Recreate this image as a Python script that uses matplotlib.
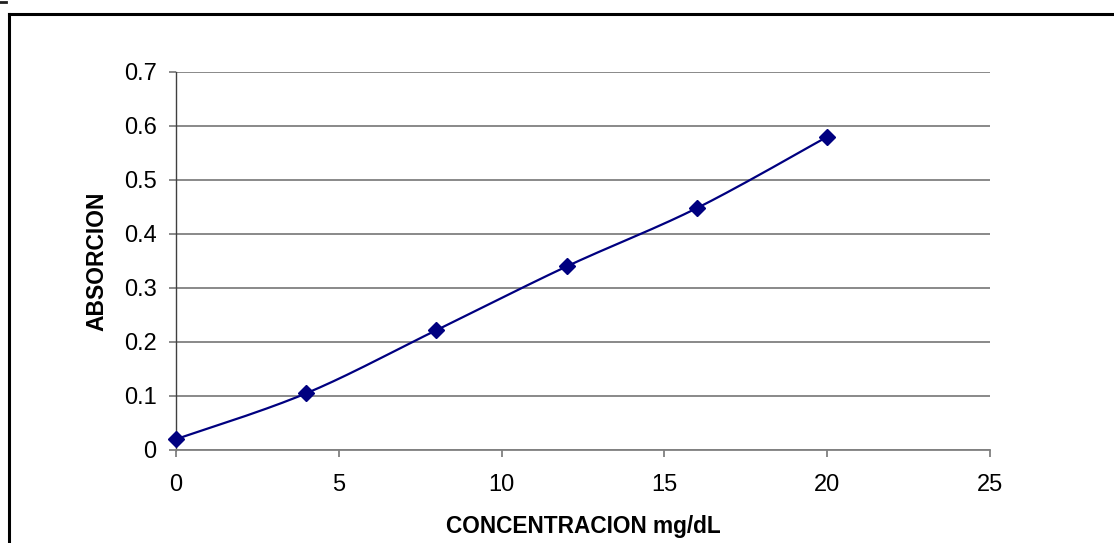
import numpy as np
import matplotlib
matplotlib.use("Agg")
import matplotlib.pyplot as plt
from matplotlib.lines import Line2D

concentracion = [0, 4, 8, 12, 16, 20]
absorcion = [0.02, 0.105, 0.222, 0.34, 0.448, 0.58]
x_ticks = [0, 5, 10, 15, 20, 25]
y_ticks = [0, 0.1, 0.2, 0.3, 0.4, 0.5, 0.6, 0.7]
y_labels = ["0", "0.1", "0.2", "0.3", "0.4", "0.5", "0.6", "0.7"]

plt.rcParams['font.family'] = ['Liberation Sans', 'DejaVu Sans']

W, H = 1114, 543
fig = plt.figure(figsize=(W / 100, H / 100), dpi=100)
ax = fig.add_axes([176 / W, 1 - 450 / H, (990 - 176) / W, (450 - 72) / H])

# Excel-style smoothed line (Catmull-Rom through the data points)
def smooth(xs, ys, n=30):
    xs = np.asarray(xs, float); ys = np.asarray(ys, float)
    px = np.concatenate([[xs[0]], xs, [xs[-1]]])
    py = np.concatenate([[ys[0]], ys, [ys[-1]]])
    outx, outy = [], []
    t = np.linspace(0, 1, n)
    for i in range(1, len(px) - 2):
        p0x, p1x, p2x, p3x = px[i - 1], px[i], px[i + 1], px[i + 2]
        p0y, p1y, p2y, p3y = py[i - 1], py[i], py[i + 1], py[i + 2]
        c1x = p1x + (p2x - p0x) / 6; c1y = p1y + (p2y - p0y) / 6
        c2x = p2x - (p3x - p1x) / 6; c2y = p2y - (p3y - p1y) / 6
        bx = (1 - t) ** 3 * p1x + 3 * (1 - t) ** 2 * t * c1x + 3 * (1 - t) * t ** 2 * c2x + t ** 3 * p2x
        by = (1 - t) ** 3 * p1y + 3 * (1 - t) ** 2 * t * c1y + 3 * (1 - t) * t ** 2 * c2y + t ** 3 * p2y
        outx.extend(bx); outy.extend(by)
    return outx, outy

sx, sy = smooth(concentracion, absorcion)
ax.plot(sx, sy, color='#000080', lw=1.6, zorder=3, clip_on=False)
ax.plot(concentracion, absorcion, linestyle='none', marker='D', markersize=8.5,
        color='#000080', zorder=4, clip_on=False)

ax.set_xlim(0, 25)
ax.set_ylim(0, 0.7)
ax.set_xticks(x_ticks)
ax.set_xticklabels([str(v) for v in x_ticks])
ax.set_yticks(y_ticks)
ax.set_yticklabels(y_labels)
ax.yaxis.grid(True, color='#808080', lw=1.3)
ax.set_axisbelow(True)
for s in ['top', 'right']:
    ax.spines[s].set_visible(False)
ax.spines['left'].set_color('#404040')
ax.spines['bottom'].set_color('#808080')
ax.spines['left'].set_linewidth(1.0)
ax.spines['bottom'].set_linewidth(1.3)
ax.tick_params(axis='y', length=5, width=1.3, color='#808080', pad=9, labelsize=17)
ax.tick_params(axis='x', length=5, width=1.3, color='#808080', pad=12, labelsize=17)

ax.set_xlabel('CONCENTRACION mg/dL', fontsize=16.3, fontweight='bold')
ax.set_ylabel('ABSORCION', fontsize=16.5, fontweight='bold')
ax.xaxis.set_label_coords(0.5, (450 - 533) / 378)
ax.xaxis.label.set_va('baseline')
ax.yaxis.set_label_coords((97 - 176) / 814, (450 - 261) / 378)
ax.yaxis.label.set_va('center')

# outer chart border (left and top visible)
fig.add_artist(Line2D([9 / W, 9 / W], [0, 1 - 14 / H], color='black', lw=2.2, transform=fig.transFigure))
fig.add_artist(Line2D([9 / W, 1], [1 - 14 / H, 1 - 14 / H], color='black', lw=2.2, transform=fig.transFigure))
fig.add_artist(Line2D([0, 6 / W], [1 - 1.5 / H, 1 - 1.5 / H], color='#202020', lw=2, transform=fig.transFigure))

fig.savefig('out.png', dpi=100)
